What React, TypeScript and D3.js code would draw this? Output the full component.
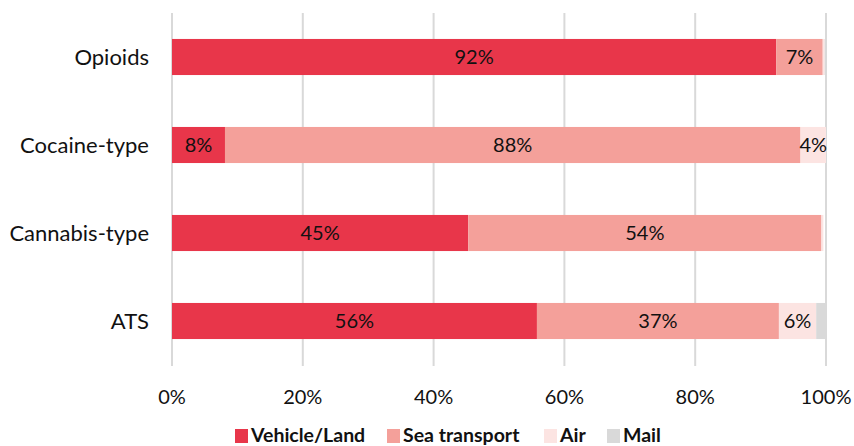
import React, { useEffect, useRef } from "react";
import * as d3 from "d3";

const categories = ["Opioids", "Cocaine-type", "Cannabis-type", "ATS"];
const seriesNames = ["Vehicle/Land", "Sea transport", "Air", "Mail"];
const vehicleLand = [92.4, 8.1, 45.3, 55.8];
const seaTransport = [7.1, 88.0, 54.0, 37.0];
const air = [0.3, 3.9, 0.3, 5.7];
const mail = [0.2, 0.0, 0.0, 1.5];
const labelVehicle = ["92%", "8%", "45%", "56%"];
const labelSea = ["7%", "88%", "54%", "37%"];
const labelAir = ["", "4%", "", "6%"];
const labelMail = ["", "", "", ""];
const xTicks = [0, 20, 40, 60, 80, 100];
const colors = ["#E8364A", "#F4A09A", "#FCE4E2", "#D9D9D9"];

const W = 854;
const H = 446;
const FONT = "Lato, 'Open Sans', sans-serif";

export default function App() {
  const ref = useRef<SVGSVGElement | null>(null);

  useEffect(() => {
    const svg = d3.select(ref.current);
    svg.selectAll("*").remove();

    const x = d3.scaleLinear().domain([0, 100]).range([172, 826]);
    const y = d3.scaleBand().domain(categories).range([13, 365]).paddingInner(0.59).paddingOuter(0.295);

    const series = [vehicleLand, seaTransport, air, mail];
    const labels = [labelVehicle, labelSea, labelAir, labelMail];

    svg.append("g").selectAll("line").data(xTicks).join("line")
      .attr("x1", (d) => x(d)).attr("x2", (d) => x(d))
      .attr("y1", 13).attr("y2", 366)
      .attr("stroke", "#D9D9D9").attr("stroke-width", 2);

    const segs: any[] = [];
    categories.forEach((c, i) => {
      let acc = 0;
      series.forEach((s, k) => {
        const v = s[i];
        segs.push({ c, k, x0: acc, x1: acc + v, label: labels[k][i] });
        acc += v;
      });
    });

    svg.append("g").selectAll("rect").data(segs.filter((d) => d.x1 > d.x0)).join("rect")
      .attr("x", (d) => x(d.x0))
      .attr("width", (d) => x(d.x1) - x(d.x0))
      .attr("y", (d) => y(d.c)!)
      .attr("height", y.bandwidth())
      .attr("fill", (d) => colors[d.k]);

    svg.append("g").selectAll("text").data(segs.filter((d) => d.label)).join("text")
      .attr("x", (d) => (x(d.x0) + x(d.x1)) / 2)
      .attr("y", (d) => y(d.c)! + y.bandwidth() / 2)
      .attr("dy", "0.36em")
      .attr("text-anchor", "middle")
      .attr("font-family", FONT)
      .attr("font-size", 20)
      .attr("fill", "#111")
      .text((d) => d.label);

    svg.append("g").selectAll("text").data(categories).join("text")
      .attr("x", 149)
      .attr("y", (d) => y(d)! + y.bandwidth() / 2)
      .attr("dy", "0.36em")
      .attr("text-anchor", "end")
      .attr("font-family", FONT)
      .attr("font-size", 22)
      .attr("fill", "#111")
      .text((d) => d);

    svg.append("g").selectAll("text").data(xTicks).join("text")
      .attr("x", (d) => x(d))
      .attr("y", 404)
      .attr("text-anchor", "middle")
      .attr("font-family", FONT)
      .attr("font-size", 20)
      .attr("fill", "#111")
      .text((d) => `${d}%`);

    const leg = svg.append("g");
    const legX = [235, 387, 544, 607];
    seriesNames.forEach((n, k) => {
      leg.append("rect").attr("x", legX[k]).attr("y", 429).attr("width", 13).attr("height", 14).attr("fill", colors[k]);
      leg.append("text").attr("x", legX[k] + 16).attr("y", 442)
        .attr("font-family", FONT).attr("font-size", 19.5).attr("font-weight", "bold")
        .attr("fill", "#111").text(n);
    });
  }, []);

  return (
    <svg ref={ref} width={W} height={H} style={{ position: "absolute", left: 0, top: 0, background: "#fff" }} />
  );
}
